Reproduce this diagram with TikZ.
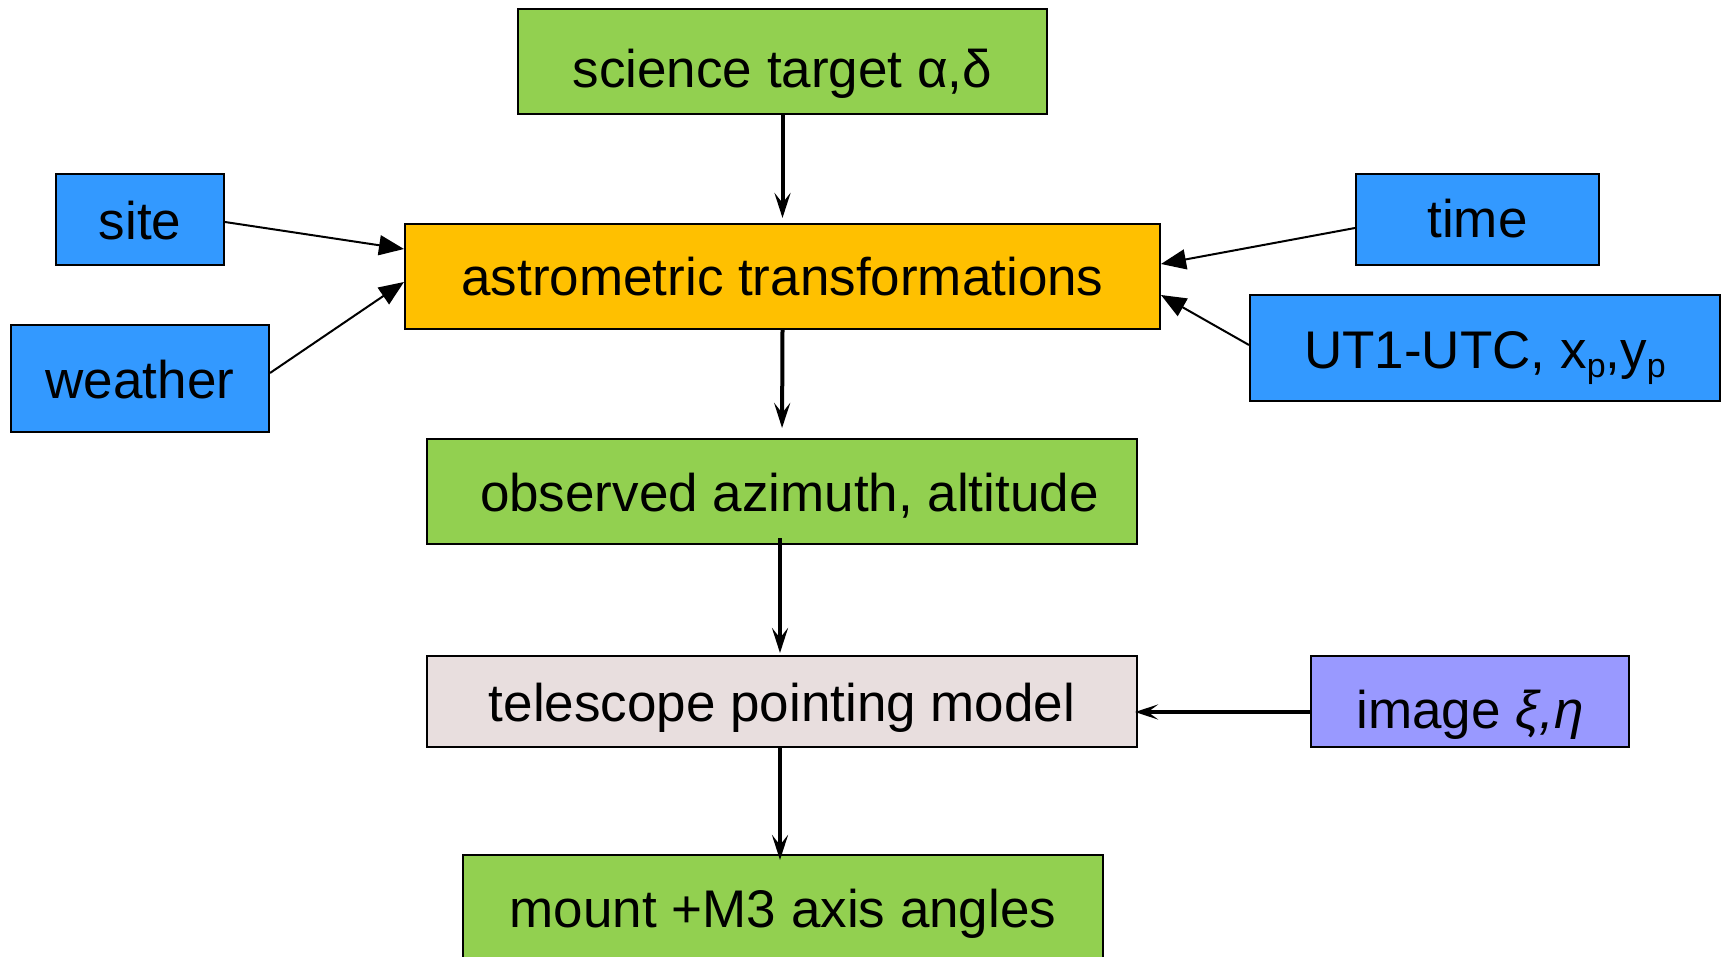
\documentclass[tikz,border=0pt]{standalone}
\usepackage{fontspec}
\setmainfont{Liberation Sans}
\usetikzlibrary{arrows.meta}
\definecolor{cgreen}{HTML}{92D050}
\definecolor{cblue}{HTML}{3399FF}
\definecolor{corange}{HTML}{FFC000}
\definecolor{cpink}{HTML}{E8DEDE}
\definecolor{cpurple}{HTML}{9999FF}
\newcommand{\lowsub}[1]{\raisebox{-4.5pt}{\fontsize{17}{17}\selectfont #1}}
\tikzset{
  box/.style={draw=black, line width=1pt, inner sep=0pt, font=\fontsize{26.5}{30}\selectfont, text=black, text depth=0pt},
  base/.style={text height=#1},
  flowarrow/.style={line width=2pt, -{Stealth[length=12.5pt,width=8pt,inset=5pt]}},
  inarrow/.style={line width=1pt, -{Triangle[length=12.5pt,width=10pt]}},
}
\begin{document}
\begin{tikzpicture}[x=0.5pt,y=-0.5pt]
\useasboundingbox (0,0) rectangle (1729,957);
\clip (0,0) rectangle (1729,957);
\node[box, base=26pt, fill=cgreen, minimum width=264.5pt, minimum height=52.5pt] (sci) at (782.5,61.5) {science target α,δ};
\node[box, base=19.7pt, fill=cblue, minimum width=84pt, minimum height=45.5pt] (site) at (140,219.5) {site};
\node[box, base=19.7pt, fill=cblue, minimum width=129pt, minimum height=53.5pt] (weather) at (140,378.5) {weather};
\node[box, base=19.3pt, fill=corange, minimum width=377.5pt, minimum height=52.5pt] (astro) at (782.5,276.5) {astrometric transformations};
\node[box, base=18pt, fill=cblue, minimum width=121.5pt, minimum height=45.5pt] (time) at (1477.5,219.5) {time};
\node[box, base=20.3pt, fill=cblue, minimum width=235pt, minimum height=53pt] (ut) at (1485,348) {UT1-UTC, x\lowsub{p},y\lowsub{p}};
\node[box, base=20.2pt, fill=cgreen, minimum width=355pt, minimum height=52.5pt] (obs) at (782,491.5) {\hspace*{7.4pt}observed azimuth, altitude};
\node[box, base=20.2pt, fill=cpink, minimum width=355pt, minimum height=45.5pt] (tel) at (782,701.5) {telescope pointing model};
\node[box, base=27pt, fill=cpurple, minimum width=159pt, minimum height=45.5pt] (img) at (1470,701.5) {image \textit{ξ,η}};
\node[box, base=19.8pt, fill=cgreen, minimum width=320pt, minimum height=52.5pt] (mount) at (783,907.5) {mount +M3 axis angles};

\draw[flowarrow, shorten >=2.5pt] (sci.south) -- (astro.north);
\draw[flowarrow, shorten >=5pt] (astro.south) -- (obs.north);
\draw[flowarrow, shorten >=1pt] ([xshift=-1pt,yshift=3.5pt]obs.south) -- ([xshift=-1pt]tel.north);
\draw[flowarrow] ([xshift=-1pt,yshift=1pt]tel.south) -- ([xshift=-1.5pt,yshift=-3pt]mount.north);
\draw[line width=2pt, -{Stealth[length=11.5pt,width=7.5pt,inset=5pt]}, shorten >=-1.5pt] ([yshift=-5.25pt]img.west) -- ([yshift=-5.25pt]tel.east);

\draw[inarrow] ([yshift=-1.25pt]site.east) -- ([yshift=13.75pt]astro.west);
\draw[inarrow] ([yshift=2.75pt]weather.east) -- ([yshift=-2.75pt]astro.west);
\draw[inarrow] ([yshift=-4.25pt]time.west) -- ([yshift=6.25pt]astro.east);
\draw[inarrow] ([yshift=1.5pt]ut.west) -- ([yshift=-9.25pt]astro.east);
\end{tikzpicture}
\end{document}
